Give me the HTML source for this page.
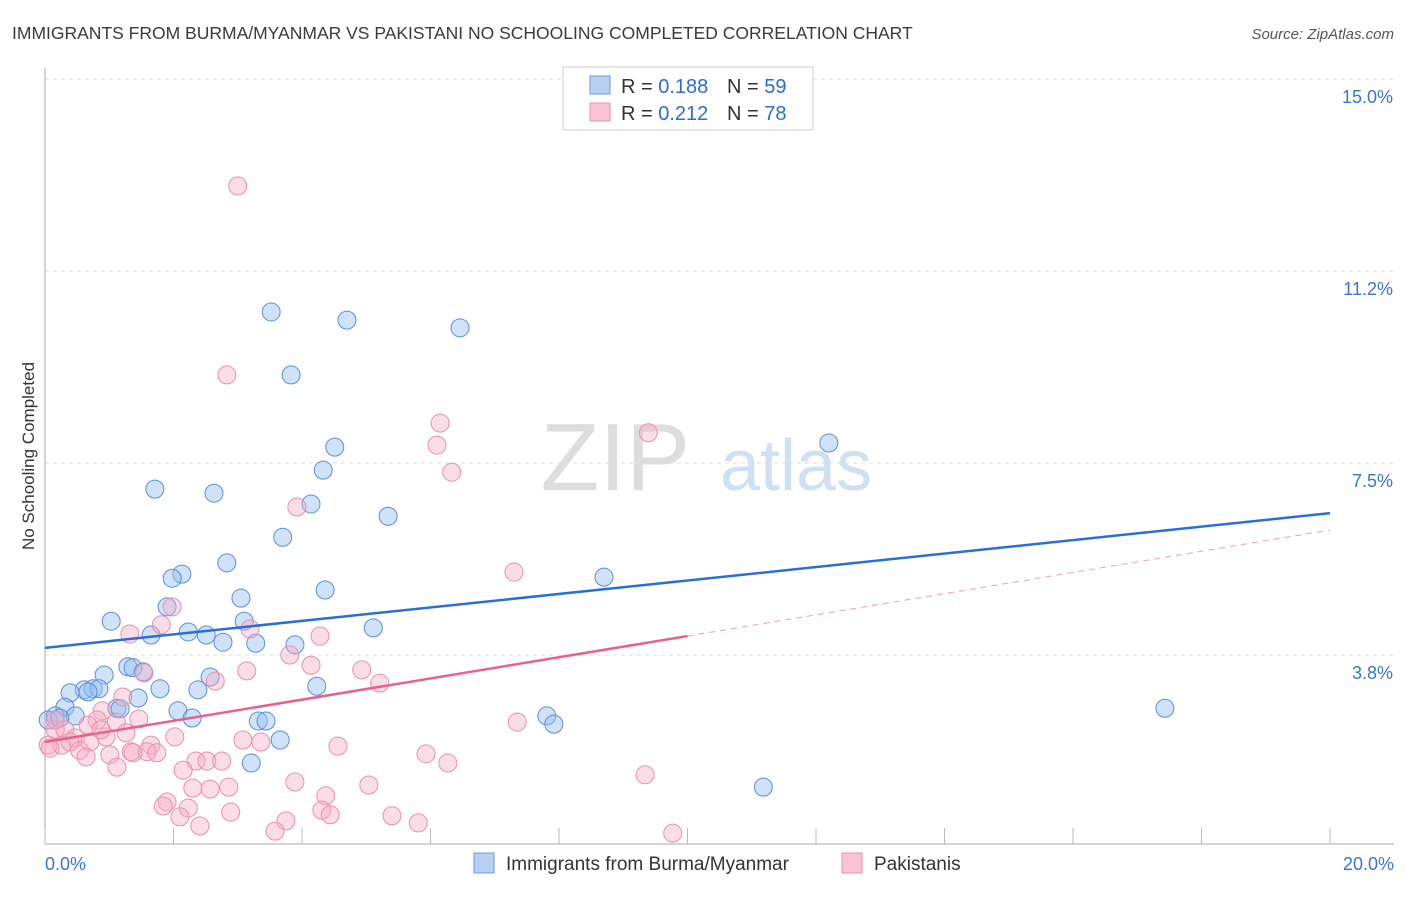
<!DOCTYPE html>
<html><head><meta charset="utf-8"><style>
body{margin:0;background:#fff;font-family:"Liberation Sans",sans-serif;}
svg text{font-family:"Liberation Sans",sans-serif;}
</style></head><body>
<svg width="1406" height="892" xmlns="http://www.w3.org/2000/svg">
<text x="12" y="39" font-size="17.5" fill="#3a3a3a">IMMIGRANTS FROM BURMA/MYANMAR VS PAKISTANI NO SCHOOLING COMPLETED CORRELATION CHART</text>
<text x="1394" y="39" font-size="15" fill="#555" font-style="italic" text-anchor="end">Source: ZipAtlas.com</text>
<g id="grid"></g>
<text x="690" y="490" font-size="96" fill="#ddd" font-family="Liberation Serif" text-anchor="end">ZIP</text>
<text x="720" y="490" font-size="72" fill="#cfe0f5">atlas</text>
<text x="34" y="456" font-size="17" fill="#333" text-anchor="middle" transform="rotate(-90 34 456)">No Schooling Completed</text>
<g id="pts"></g>
<g id="lines"></g>
<g>
<rect x="563" y="67" width="250" height="63" fill="#fff" stroke="#ccc"/>
<rect x="590" y="76" width="20" height="18" fill="#b7d1f3" stroke="#6a9be0"/>
<rect x="590" y="103" width="20" height="18" fill="#f9c3d3" stroke="#ec91ae"/>
<text x="621" y="93" font-size="20" fill="#333">R = <tspan fill="#2e6bd6">0.188</tspan></text>
<text x="727" y="93" font-size="20" fill="#333">N = <tspan fill="#2e6bd6">59</tspan></text>
<text x="621" y="120" font-size="20" fill="#333">R = <tspan fill="#2e6bd6">0.212</tspan></text>
<text x="727" y="120" font-size="20" fill="#333">N = <tspan fill="#2e6bd6">78</tspan></text>
</g>
<g>
<rect x="474" y="853" width="20" height="20" fill="#b7d1f3" stroke="#6a9be0"/>
<text x="506" y="870" font-size="19" fill="#333">Immigrants from Burma/Myanmar</text>
<rect x="842" y="853" width="20" height="20" fill="#f9c3d3" stroke="#ec91ae"/>
<text x="874" y="870" font-size="19" fill="#333">Pakistanis</text>
</g>
</svg>
<script>
const yTicks=[3.75,7.5,11.25,15];
const yTickLabels=["3.8%","7.5%","11.2%","15.0%"];
const xTicks=[0,2,4,6,8,10,12,14,16,18,20];
const blueX=[3.52,4.70,6.46,3.83,4.51,12.20,4.33,1.71,2.63,4.14,5.34,3.70,2.83,2.13,1.98,8.70,4.36,3.05,1.90,3.10,1.03,5.11,1.65,2.23,2.51,2.77,3.89,3.28,0.92,1.29,1.37,1.53,2.57,4.23,0.61,0.39,0.75,0.84,1.79,2.38,1.45,0.67,1.12,1.17,2.07,2.29,0.31,0.16,0.47,0.05,0.23,3.32,3.44,3.66,7.81,7.92,3.21,11.18,17.43];
const blueY=[10.45,10.29,10.14,9.22,7.81,7.89,7.36,6.99,6.91,6.70,6.46,6.05,5.55,5.33,5.25,5.27,5.02,4.86,4.69,4.41,4.41,4.28,4.14,4.20,4.14,4.00,3.95,3.98,3.36,3.52,3.50,3.42,3.32,3.14,3.07,3.01,3.09,3.09,3.09,3.07,2.91,3.03,2.71,2.70,2.66,2.52,2.73,2.56,2.56,2.48,2.52,2.46,2.46,2.09,2.56,2.40,1.64,1.17,2.71];
const pinkX=[3.00,2.83,6.15,6.10,9.39,6.33,3.92,7.30,1.98,1.81,1.32,3.19,4.28,3.81,4.14,1.54,4.93,3.14,2.65,5.21,1.21,0.89,1.46,0.81,1.11,0.67,1.26,0.95,2.02,3.08,1.65,3.36,0.16,0.31,0.47,0.26,0.05,0.08,0.54,0.70,0.39,0.64,1.01,1.34,1.59,1.74,1.37,1.12,4.56,5.93,6.27,7.35,2.35,2.52,2.75,2.15,3.89,5.04,9.34,2.30,2.57,2.86,1.90,1.84,2.23,4.37,4.31,4.44,2.89,2.10,2.41,3.75,5.40,5.81,3.58,9.77,0.16,0.87];
const pinkY=[12.91,9.22,8.28,7.85,8.09,7.32,6.64,5.37,4.69,4.34,4.16,4.26,4.12,3.75,3.55,3.40,3.46,3.44,3.24,3.20,2.93,2.66,2.50,2.48,2.44,2.38,2.23,2.15,2.15,2.09,1.99,2.05,2.29,2.29,2.13,1.99,1.99,1.93,1.89,2.05,2.05,1.76,1.80,1.86,1.86,1.84,1.84,1.56,1.97,1.82,1.64,2.44,1.68,1.68,1.68,1.50,1.27,1.21,1.41,1.15,1.13,1.17,0.88,0.80,0.76,1.00,0.72,0.63,0.68,0.59,0.41,0.51,0.61,0.47,0.31,0.27,2.48,2.29];
const blueTrend=[3.89,6.52];
const pinkTrend=[2.05,6.19];
const pinkSolidEnd=10;
const X=v=>45+v/20*1285, Y=v=>847-v*51.2;
const NS="http://www.w3.org/2000/svg";
function mk(t,a,p){const e=document.createElementNS(NS,t);for(const k in a)e.setAttribute(k,a[k]);p.appendChild(e);return e;}
const g=document.getElementById('grid');
yTicks.forEach((t,i)=>{
 const l=mk('line',{x1:45,x2:1394,y1:Y(t),y2:Y(t),stroke:'#ddd','stroke-dasharray':'4,4'},g);
 
 
 const tx=mk('text',{x:1393,y:Y(t)+24,'font-size':18,fill:'#3a74d8','text-anchor':'end'},g);
 tx.textContent=yTickLabels[i];
 
 
});
const ax=mk('line',{x1:45,x2:45,y1:68,y2:844,stroke:'#aaa'},g);


const bx=mk('line',{x1:45,x2:1394,y1:844,y2:844,stroke:'#aaa'},g);


xTicks.forEach(t=>{
 const l=mk('line',{x1:X(t),x2:X(t),y1:828,y2:844,stroke:'#bbb'},g);
 
 
});
[[0,"0.0%",'start',45],[20,"20.0%",'end',1394]].forEach(a=>{
 const tx=mk('text',{x:a[3],y:870,'font-size':18,fill:'#3a74d8','text-anchor':a[2]},g);
 tx.textContent=a[1];
 
 
});
const p=document.getElementById('pts');
blueX.forEach((x,i)=>{
 const c=mk('circle',{cx:X(x),cy:Y(blueY[i]),r:9,fill:'rgba(150,190,240,0.45)',stroke:'#5b8fd8','stroke-width':1},p);
 
 
});
pinkX.forEach((x,i)=>{
 const c=mk('circle',{cx:X(x),cy:Y(pinkY[i]),r:9,fill:'rgba(244,170,195,0.4)',stroke:'#e890ae','stroke-width':1},p);
 
 
});
const L=document.getElementById('lines');
const bl=mk('line',{x1:X(0),y1:Y(blueTrend[0]),x2:X(20),y2:Y(blueTrend[1]),stroke:'#2a6fd6','stroke-width':2.5},L);


const pm=pinkTrend[0]+(pinkTrend[1]-pinkTrend[0])*pinkSolidEnd/20;
const pl=mk('line',{x1:X(0),y1:Y(pinkTrend[0]),x2:X(pinkSolidEnd),y2:Y(pm),stroke:'#e8608e','stroke-width':2.5},L);


const pd=mk('line',{x1:X(pinkSolidEnd),y1:Y(pm),x2:X(20),y2:Y(pinkTrend[1]),stroke:'#e8a0b8','stroke-width':1,'stroke-dasharray':'6,5'},L);


</script>
</body></html>
